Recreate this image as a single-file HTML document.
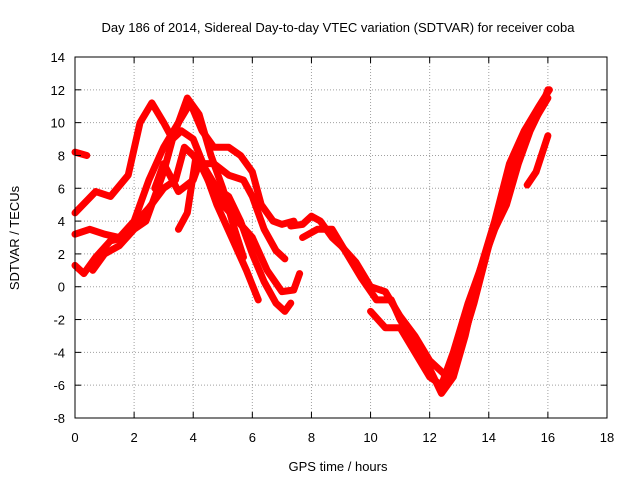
<!DOCTYPE html>
<html><head><meta charset="utf-8"><style>
body{margin:0;background:#fff}
svg text{font-family:"Liberation Sans",sans-serif;fill:#000}
</style></head><body>
<svg id="c" width="640" height="480">
<rect width="640" height="480" fill="#fff"/>
<text x="338" y="32" font-size="13" text-anchor="middle">Day 186 of 2014, Sidereal Day-to-day VTEC variation (SDTVAR) for receiver coba</text>
<text x="338" y="471" font-size="13" text-anchor="middle">GPS time / hours</text>
<text transform="translate(19,238) rotate(-90)" font-size="13" text-anchor="middle">SDTVAR / TECUs</text>
<g id="grid"></g><g id="marks"></g><g id="axes"></g>
</svg>
<script>
const xTicks=[0,2,4,6,8,10,12,14,16,18];
const yTicks=[-8,-6,-4,-2,0,2,4,6,8,10,12,14];
const track1=[[0,4.5],[0.7,5.8],[1.2,5.5],[1.8,6.8],[2.2,10],[2.6,11.2],[3,10],[3.3,9],[3.8,11.5],[4.2,10.5],[4.6,8],[5,6],[5.4,3.5],[5.7,1.8]];
const track2=[[0,3.2],[0.5,3.5],[1,3.2],[1.5,3.0],[2,4],[2.5,6.5],[3,8.5],[3.5,10],[3.9,11.2],[4.3,9.5],[4.7,8.5],[5.2,8.5],[5.6,8],[6,7],[6.3,5],[6.7,4],[7,3.8],[7.4,4]];
const track3=[[0,1.3],[0.3,0.8],[0.7,1.8],[1.2,2.8],[1.7,3],[2,3.8],[2.5,4.8],[3,6],[3.4,6.5],[3.7,8.5],[4,8],[4.4,7],[4.8,5],[5.3,3],[5.8,1],[6.2,-0.8]];
const track4=[[0.6,1.0],[1,2],[1.5,2.5],[2,3.5],[2.4,4],[2.8,6],[3,7],[3.3,9],[3.6,9.5],[4,9],[4.4,7.2],[4.8,6],[5.2,5.5],[5.6,4],[6,2],[6.4,0.3],[6.8,-1],[7.1,-1.5],[7.3,-1]];
const track5=[[3.5,3.5],[3.8,4.5],[4.1,8],[4.5,6.5],[5,5],[5.5,4],[6,3],[6.5,1],[7,-0.3],[7.4,-0.2],[7.6,0.8]];
const track6=[[2.7,6],[3,7.5],[3.5,5.8],[4,6.5],[4.2,7.5],[4.7,7.5],[5.2,6.8],[5.7,6.5],[6,5.5],[6.4,3.5],[6.8,2.2],[7.1,1.7]];
const track7=[[7.3,3.7],[7.7,3.8],[8,4.3],[8.3,4],[8.7,3],[9,2.5],[9.5,1.5],[10,0],[10.5,-0.3],[11,-1.8],[11.5,-3],[12,-4.5],[12.3,-5],[12.6,-5.5],[13,-4],[13.5,-1],[14,2.5],[14.5,5.5],[15,8],[15.5,10],[16,11.5]];
const track8=[[7.7,3],[8.2,3.5],[8.7,3.5],[9.2,2],[9.7,0.5],[10.2,-0.8],[10.7,-0.8],[11,-2],[11.5,-3.5],[12,-5],[12.4,-6.5],[12.8,-5.5],[13.2,-3],[13.7,1],[14.2,4],[14.7,7.5],[15.2,9.5],[15.7,11],[16.05,12]];
const track9=[[10,-1.5],[10.5,-2.5],[11,-2.5],[11.5,-4],[12,-5.5],[12.4,-6],[12.8,-4],[13.3,-1],[13.8,1.5],[14.2,3.5],[14.6,5],[15,7.5],[15.4,9.5],[15.8,11],[16,12]];
const track10=[[15.3,6.2],[15.6,7],[16,9.2]];
const track11=[[0,8.2],[0.4,8]];
const tracks=[track1,track2,track3,track4,track5,track6,track7,track8,track9,track10,track11];
const L=75,R=607,T=57,B=418;
const X=v=>L+(v-0)/18*(R-L);
const Y=v=>B-(v+8)/22*(B-T);
const NS='http://www.w3.org/2000/svg';
function mk(p,t,a){const e=document.createElementNS(NS,t);for(const k in a)e.setAttribute(k,a[k]);p.appendChild(e);return e;}
const grid=document.getElementById('grid'),axes=document.getElementById('axes'),marks=document.getElementById('marks');
xTicks.forEach(v=>{
 if(v>0&&v<18){const g=mk(grid,'line',{x1:X(v),x2:X(v),y1:T,y2:B,stroke:'#a0a0a0','stroke-dasharray':'1,2'});
 }
 mk(axes,'line',{x1:X(v),x2:X(v),y1:B,y2:B-6,stroke:'#000'});
 mk(axes,'line',{x1:X(v),x2:X(v),y1:T,y2:T+6,stroke:'#000'});
 const t=mk(axes,'text',{x:X(v),y:B+24,'font-size':13,'text-anchor':'middle'});t.textContent=v;
 
});
yTicks.forEach(v=>{
 if(v>-8&&v<14){const g=mk(grid,'line',{x1:L,x2:R,y1:Y(v),y2:Y(v),stroke:'#a0a0a0','stroke-dasharray':'1,2'});
 }
 mk(axes,'line',{x1:L,x2:L+6,y1:Y(v),y2:Y(v),stroke:'#000'});
 mk(axes,'line',{x1:R,x2:R-6,y1:Y(v),y2:Y(v),stroke:'#000'});
 const t=mk(axes,'text',{x:L-10,y:Y(v)+5,'font-size':13,'text-anchor':'end'});t.textContent=v;
 
});
const fr=mk(axes,'rect',{x:L,y:T,width:R-L,height:B-T,fill:'none',stroke:'#000'});

tracks.forEach(tr=>{
 const p=mk(marks,'polyline',{points:tr.map(d=>X(d[0])+','+Y(d[1])).join(' '),fill:'none',stroke:'#ff0000','stroke-width':7,'stroke-linejoin':'round','stroke-linecap':'round'});
 
 
});
</script>
</body></html>
